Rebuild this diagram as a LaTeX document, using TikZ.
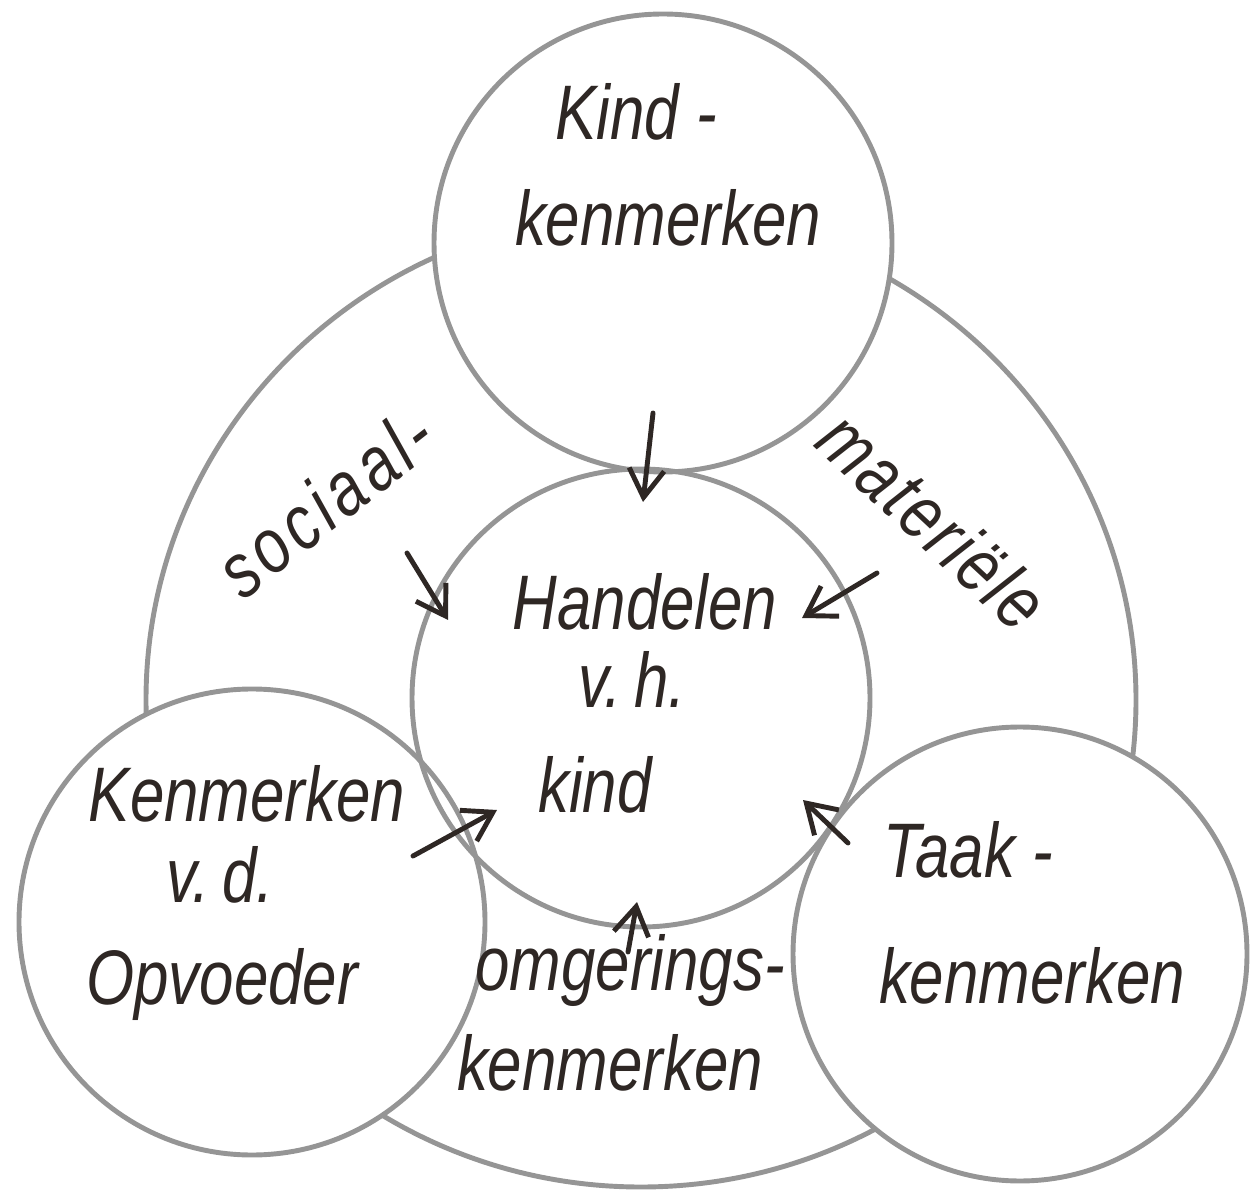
\documentclass[tikz,border=0pt]{standalone}
\usepackage{fontspec}
\newfontfamily\handfont{Liberation Sans}[FakeStretch=0.8]
\usetikzlibrary{arrows.meta}
\definecolor{pencilGray}{HTML}{959595}
\definecolor{inkDark}{HTML}{2E2724}

\begin{document}
\begin{tikzpicture}[>={Straight Barb[length=8pt,width=10pt]},line cap=round,line join=round,
    ring/.style={circle,draw=pencilGray,line width=1.4pt,inner sep=0pt},
    hand/.style={inkDark,font=\handfont\itshape\fontsize{22}{24}\selectfont,inner sep=0pt,anchor=base},
    inkarrow/.style={->,draw=inkDark,line width=1.4pt}]
  \useasboundingbox (0,0) rectangle (12.53,-11.93);
  % outer contour of the environment, hidden under the outer circles
  \draw[pencilGray,line width=1.4pt] (6.41,-7.00) ellipse[x radius=4.95,y radius=4.87];
  % the four circles
  \node[ring,fill=white,minimum size=4.58cm] (kindc) at (6.63,-2.43) {};
  \node[ring,fill=white,minimum size=4.66cm] (opvc) at (2.52,-9.22) {};
  \node[ring,fill=white,minimum size=4.54cm] (taakc) at (10.20,-9.54) {};
  \node[ring,minimum size=4.58cm] (handc) at (6.41,-6.98) {};
  % texts
  \node[hand] (kind1) at (6.36,-1.40) {Kind -};
  \node[hand] (kind2) at (6.68,-2.46) {kenmerken};
  \node[hand] (hand1) at (6.45,-6.30) {Handelen};
  \node[hand] (hand2) at (6.32,-7.07) {v.\,h.};
  \node[hand] (hand3) at (5.95,-8.12) {kind};
  \node[hand] (opv1) at (2.47,-8.21) {Kenmerken};
  \node[hand] (opv2) at (2.20,-9.02) {v.\,d.};
  \node[hand] (opv3) at (2.22,-10.04) {Opvoeder};
  \node[hand] (omg1) at (6.30,-9.90) {omgerings-};
  \node[hand] (omg2) at (6.10,-10.90) {kenmerken};
  \node[hand] (taak1) at (9.68,-8.77) {Taak -};
  \node[hand] (taak2) at (10.32,-10.03) {kenmerken};
  \node[hand,anchor=center,rotate=38] (soc) at (3.25,-5.02)
    {\addfontfeatures{LetterSpace=7}sociaal-};
  \node[hand,anchor=center,rotate=-43] (mat) at (9.33,-5.20)
    {\addfontfeatures{LetterSpace=4}materiële};
  % arrows towards the child's action
  \coordinate (kindT) at (6.53,-4.13);  \coordinate (kindH) at (6.43,-5.02);
  \coordinate (socT) at (4.07,-5.53);   \coordinate (socH) at (4.48,-6.20);
  \coordinate (matT) at (8.77,-5.73);   \coordinate (matH) at (8.02,-6.18);
  \coordinate (opvT) at (4.13,-8.56);   \coordinate (opvH) at (4.97,-8.10);
  \coordinate (taakT) at (8.48,-8.43);  \coordinate (taakH) at (8.03,-8.00);
  \coordinate (omgT) at (6.28,-9.52);   \coordinate (omgH) at (6.37,-9.02);
  \foreach \n in {kind,soc,mat,opv,taak,omg}
    \draw[inkarrow] (\n T) -- (\n H);
\end{tikzpicture}
\end{document}
